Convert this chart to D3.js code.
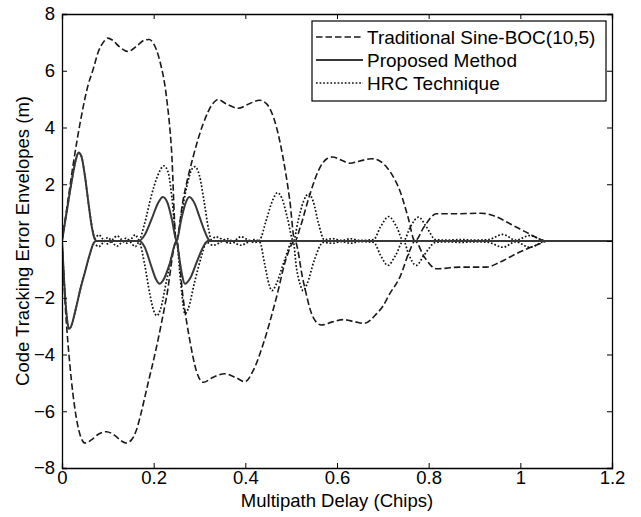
<!DOCTYPE html>
<html>
<head>
<meta charset="utf-8">
<script src="https://cdn.jsdelivr.net/npm/d3@7"></script>
<style>
  html, body { margin: 0; padding: 0; background: #fff; }
  svg { display: block; }
  text { font-family: "Liberation Sans", Arial, Helvetica, sans-serif; fill: #000; }
</style>
</head>
<body>
<svg id="chart" width="641" height="517"></svg>
<script>
// Axis ticks
const xTicks = [0, 0.2, 0.4, 0.6, 0.8, 1, 1.2];
const yTicks = [-8, -6, -4, -2, 0, 2, 4, 6, 8];

// Series names
const seriesNames = ["Traditional Sine-BOC(10,5)", "Proposed Method", "HRC Technique"];

// Traditional Sine-BOC(10,5): [delay (chips), error (m)]
const tradUpper = [
  [0,0],[0.01,1.1],[0.028,3.07],[0.04,4.2],[0.057,5.5],[0.068,6.05],[0.079,6.66],[0.09,7.0],[0.1,7.15],
  [0.11,7.08],[0.125,6.85],[0.144,6.68],[0.165,6.9],[0.18,7.08],[0.19,7.1],[0.2,6.95],[0.213,6.37],
  [0.228,5.07],[0.239,3.19],[0.249,0],
  [0.264,1.43],[0.286,2.96],[0.308,4.13],[0.329,4.84],[0.34,4.98],[0.36,4.82],[0.384,4.68],[0.41,4.85],
  [0.431,4.96],[0.446,4.84],[0.468,4.01],[0.482,2.96],[0.497,1.43],[0.508,0],
  [0.52,0.5],[0.54,1.6],[0.56,2.5],[0.578,2.9],[0.59,2.96],[0.61,2.85],[0.628,2.74],[0.65,2.82],
  [0.675,2.9],[0.695,2.8],[0.711,2.55],[0.725,2.2],[0.737,1.78],[0.755,0.84],[0.77,0],
  [0.79,0.5],[0.817,0.96],[0.86,0.96],[0.915,0.98],[0.94,0.9],[0.984,0.55],[1.02,0.25],[1.057,0],
  [1.2,0]
];
const tradLower = [
  [0,0],[0.008,-2.5],[0.017,-4.33],[0.031,-6.21],[0.042,-6.95],[0.05,-7.12],[0.065,-7.0],[0.08,-6.8],
  [0.097,-6.72],[0.115,-6.85],[0.13,-7.05],[0.14,-7.12],[0.152,-7.0],[0.162,-6.68],[0.172,-6.1],
  [0.184,-5.27],[0.206,-3.75],[0.228,-1.98],[0.25,0],
  [0.264,-1.98],[0.279,-3.51],[0.293,-4.57],[0.308,-4.98],[0.33,-4.8],[0.355,-4.68],[0.38,-4.82],
  [0.399,-4.96],[0.417,-4.57],[0.439,-3.63],[0.468,-1.98],[0.49,-0.57],[0.508,0],
  [0.526,-1.39],[0.548,-2.69],[0.566,-2.96],[0.59,-2.85],[0.613,-2.77],[0.64,-2.85],[0.66,-2.9],
  [0.686,-2.57],[0.7,-2.3],[0.715,-1.86],[0.737,-1.28],[0.759,-0.33],[0.77,0],
  [0.79,-0.55],[0.817,-0.98],[0.868,-0.92],[0.926,-0.92],[0.955,-0.75],[0.991,-0.45],[1.042,-0.1],[1.06,0],
  [1.2,0]
];

// Proposed method
const propUpper = [
  [0,0],[0.01,1.0],[0.02,2.0],[0.03,2.85],[0.036,3.12],[0.042,3.0],[0.05,2.3],[0.058,1.3],[0.065,0.5],
  [0.072,0.05],[0.076,0],[0.168,0],[0.18,0.2],[0.195,0.75],[0.21,1.35],[0.22,1.55],[0.23,1.35],
  [0.24,0.75],[0.25,0],[0.26,0.75],[0.27,1.35],[0.278,1.55],[0.29,1.3],[0.3,0.85],[0.31,0.4],
  [0.32,0.05],[0.325,0],[1.2,0]
];
const propLower = [
  [0,0],[0.005,-1.5],[0.01,-2.6],[0.015,-3.1],[0.02,-3.0],[0.03,-2.4],[0.04,-1.7],[0.05,-1.1],
  [0.06,-0.5],[0.07,-0.05],[0.075,0],[0.168,0],[0.18,-0.2],[0.195,-0.9],[0.205,-1.35],[0.213,-1.51],
  [0.222,-1.35],[0.235,-0.8],[0.25,0],[0.255,-0.5],[0.262,-1.2],[0.268,-1.51],[0.28,-1.3],
  [0.295,-0.7],[0.31,-0.15],[0.318,0],[1.2,0]
];

// HRC technique
const hrcUpper = [
  [0,0],[0.01,1.0],[0.02,2.0],[0.03,2.85],[0.036,3.1],[0.042,3.0],[0.05,2.3],[0.058,1.3],[0.066,0.45],
  [0.072,0.1],[0.08,0.22],[0.09,0.05],[0.1,-0.1],[0.11,0.05],[0.12,0.18],[0.13,0.05],[0.14,-0.08],
  [0.15,0.05],[0.16,0.22],[0.168,0.05],[0.18,0.6],[0.195,1.6],[0.21,2.35],[0.222,2.65],[0.232,2.4],
  [0.24,1.5],[0.25,0],[0.26,0.9],[0.272,1.9],[0.284,2.55],[0.29,2.62],[0.3,2.3],[0.31,1.4],[0.32,0.4],
  [0.326,0.05],[0.335,0.15],[0.35,0.05],[0.365,-0.08],[0.38,0.05],[0.39,0.15],[0.405,0.05],
  [0.42,-0.05],[0.432,0.05],[0.445,0.7],[0.46,1.45],[0.47,1.7],[0.48,1.5],[0.492,0.8],[0.505,0],
  [0.515,0.7],[0.527,1.4],[0.538,1.66],[0.548,1.4],[0.56,0.6],[0.572,0.05],[0.59,0.08],[0.61,0.02],
  [0.63,0.08],[0.65,0.02],[0.68,0.05],[0.695,0.5],[0.713,0.86],[0.73,0.5],[0.745,0],[0.76,0.5],
  [0.778,0.84],[0.795,0.5],[0.815,0.05],[0.84,0.03],[0.87,0.05],[0.9,0.03],[0.93,0.05],[0.962,0.23],
  [0.99,0.03],[1.02,0.19],[1.057,0],[1.2,0]
];
const hrcLower = [
  [0,0],[0.005,-1.5],[0.01,-2.6],[0.015,-3.1],[0.02,-3.0],[0.03,-2.4],[0.04,-1.7],[0.05,-1.1],
  [0.06,-0.5],[0.07,-0.1],[0.08,-0.2],[0.09,-0.05],[0.1,0.12],[0.11,-0.05],[0.12,-0.18],[0.13,-0.05],
  [0.14,0.1],[0.15,-0.05],[0.16,-0.2],[0.168,-0.05],[0.18,-0.8],[0.192,-1.9],[0.2,-2.45],[0.207,-2.63],
  [0.215,-2.4],[0.228,-1.4],[0.24,-0.5],[0.25,0],[0.258,-1.3],[0.264,-2.2],[0.268,-2.57],[0.275,-2.4],
  [0.29,-1.4],[0.305,-0.5],[0.315,-0.05],[0.33,-0.15],[0.345,-0.05],[0.36,0.08],[0.375,-0.05],
  [0.39,-0.15],[0.405,-0.05],[0.42,0.05],[0.432,-0.05],[0.442,-0.8],[0.452,-1.55],[0.458,-1.75],
  [0.468,-1.5],[0.485,-0.7],[0.504,0],[0.512,-1.0],[0.52,-1.55],[0.526,-1.75],[0.535,-1.5],
  [0.55,-0.7],[0.57,-0.05],[0.59,-0.08],[0.61,-0.02],[0.63,-0.08],[0.65,-0.02],[0.68,-0.05],
  [0.695,-0.5],[0.711,-0.86],[0.728,-0.5],[0.745,0],[0.757,-0.5],[0.773,-0.86],[0.79,-0.5],
  [0.815,-0.05],[0.84,-0.03],[0.87,-0.05],[0.9,-0.03],[0.93,-0.05],[0.962,-0.22],[0.99,-0.03],
  [1.02,-0.22],[1.057,0],[1.2,0]
];

// Layout
const margin = { left: 62, right: 29, top: 14, bottom: 49 };
const W = 641, H = 517;
const pw = W - margin.left - margin.right;
const ph = H - margin.top - margin.bottom;

const svg = d3.select("#chart");
const g = svg.append("g").attr("transform", `translate(${margin.left},${margin.top})`);

const x = d3.scaleLinear().domain([0, 1.2]).range([0, pw]);
const y = d3.scaleLinear().domain([-8, 8]).range([ph, 0]);

const styles = [
  { stroke: "#1a1a1a", width: 1.6, dash: "6.5,3" },
  { stroke: "#383838", width: 2.0, dash: null },
  { stroke: "#111", width: 1.7, dash: "1.7,1.9" }
];

const line = d3.line().x(d => x(d[0])).y(d => y(d[1])).curve(d3.curveMonotoneX);

g.append("defs").append("clipPath").attr("id", "clip")
  .append("rect").attr("width", pw).attr("height", ph);

const plot = g.append("g").attr("clip-path", "url(#clip)");

const curves = [
  [tradUpper, 0], [tradLower, 0],
  [hrcUpper, 2], [hrcLower, 2],
  [propUpper, 1], [propLower, 1]
];
curves.forEach(([data, si]) => {
  const s = styles[si];
  plot.append("path")
    .datum(data)
    .attr("d", line)
    .attr("fill", "none")
    .attr("stroke", s.stroke)
    .attr("stroke-width", s.width)
    .attr("stroke-dasharray", s.dash)
    .attr("stroke-linejoin", "round");
});

// Axes with inward ticks on all four sides
const fmt = d3.format("");
const tickLen = 5;
const axisFont = "18.5px";

const axisBottomG = g.append("g").attr("transform", `translate(0,${ph})`)
  .call(d3.axisBottom(x).tickValues(xTicks).tickSize(-tickLen).tickPadding(3).tickFormat(fmt));
const axisTopG = g.append("g")
  .call(d3.axisTop(x).tickValues(xTicks).tickSize(-tickLen).tickFormat(""));
const axisLeftG = g.append("g")
  .call(d3.axisLeft(y).tickValues(yTicks).tickSize(-tickLen).tickPadding(7).tickFormat(fmt));
const axisRightG = g.append("g").attr("transform", `translate(${pw},0)`)
  .call(d3.axisRight(y).tickValues(yTicks).tickSize(-tickLen).tickFormat(""));

[axisBottomG, axisTopG, axisLeftG, axisRightG].forEach(a => {
  a.select(".domain").attr("stroke", "#000").attr("stroke-width", 1.3);
  a.selectAll(".tick line").attr("stroke", "#000").attr("stroke-width", 1);
  a.selectAll("text").style("font-size", axisFont)
    .style("font-family", "'Liberation Sans', Arial, sans-serif").attr("fill", "#000");
});

// Axis titles
svg.append("text")
  .attr("x", margin.left + pw / 2)
  .attr("y", 507)
  .attr("text-anchor", "middle")
  .style("font-size", "18.5px")
  .text("Multipath Delay (Chips)");

svg.append("text")
  .attr("transform", `translate(29,${margin.top + ph / 2}) rotate(-90)`)
  .attr("text-anchor", "middle")
  .style("font-size", "18.5px")
  .text("Code Tracking Error Envelopes (m)");

// Legend
const lg = svg.append("g").attr("transform", "translate(312,21)");
lg.append("rect").attr("width", 294).attr("height", 80)
  .attr("fill", "#fff").attr("stroke", "#000").attr("stroke-width", 1.2);
seriesNames.forEach((name, i) => {
  const cy = 16 + i * 23;
  const s = styles[i];
  lg.append("line")
    .attr("x1", 4).attr("x2", 51).attr("y1", cy).attr("y2", cy)
    .attr("stroke", s.stroke).attr("stroke-width", s.width)
    .attr("stroke-dasharray", s.dash);
  lg.append("text")
    .attr("x", 55).attr("y", cy).attr("dy", "0.35em")
    .style("font-size", "19px")
    .text(name);
});
</script>
</body>
</html>
